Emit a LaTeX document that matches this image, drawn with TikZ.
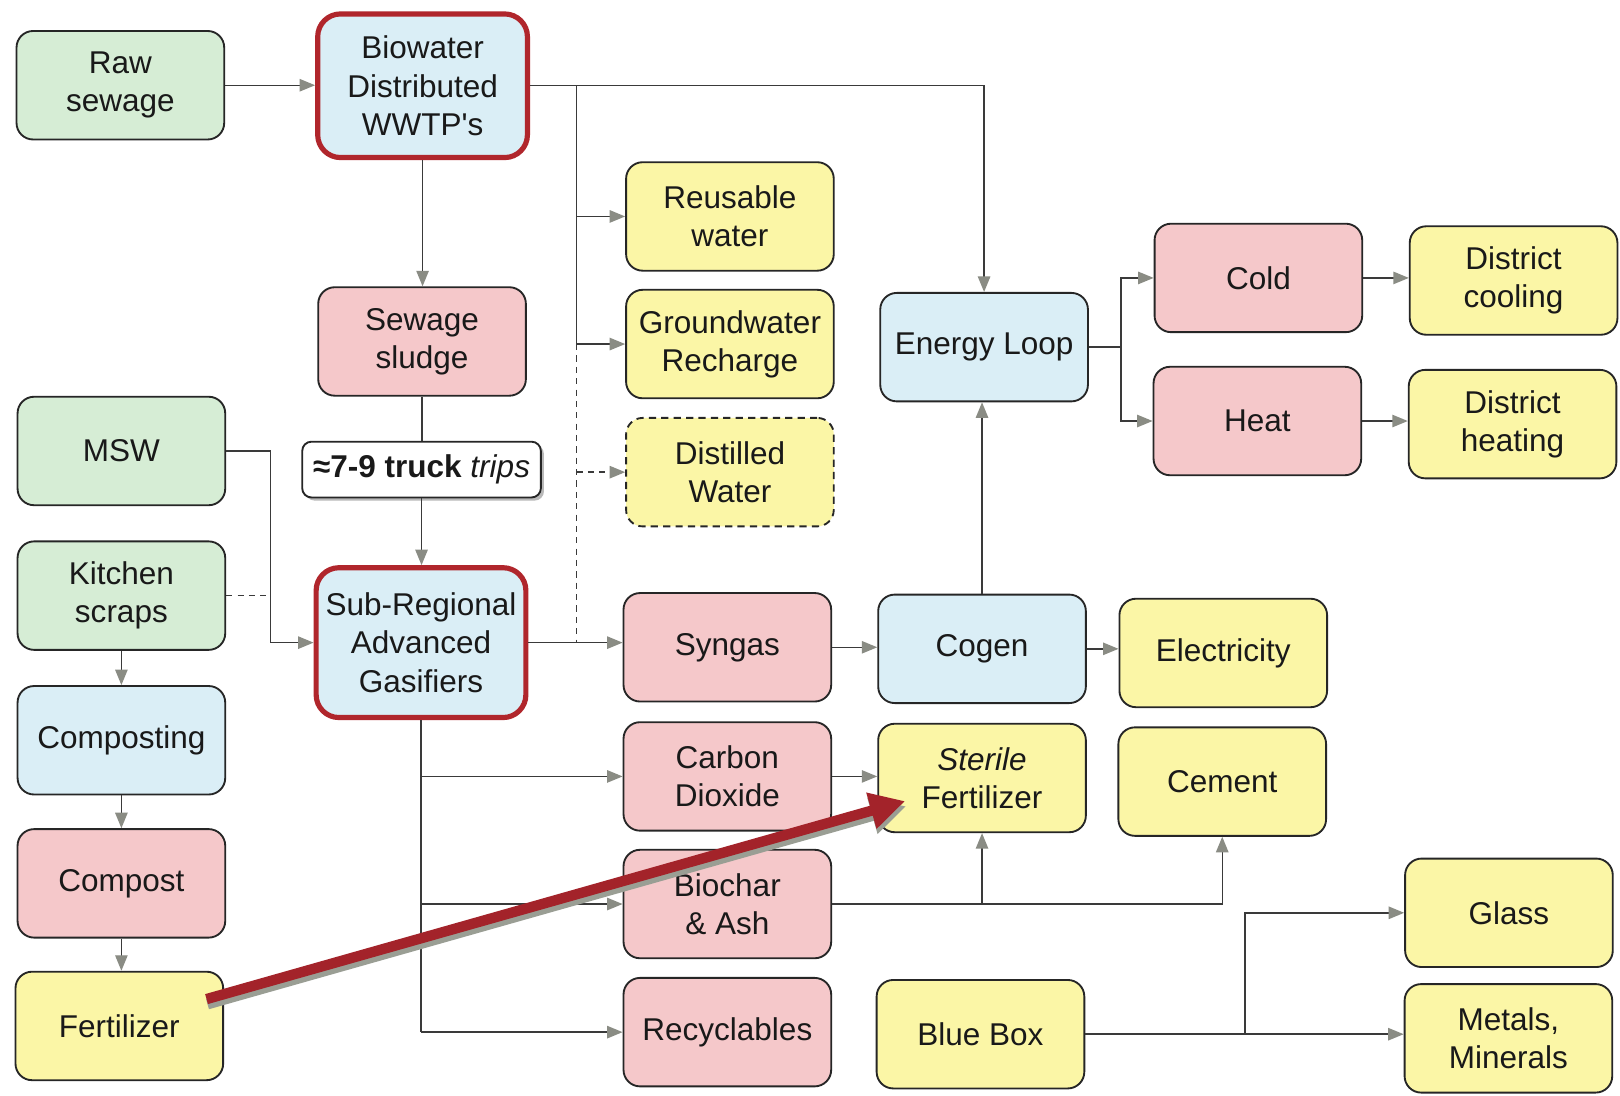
\documentclass[tikz,border=0pt]{standalone}
\usepackage{fontspec}
\setmainfont{Liberation Sans}
\usetikzlibrary{arrows.meta,shadows,calc}
\definecolor{boxgreen}{HTML}{D6EDD5}
\definecolor{boxblue}{HTML}{DAEEF6}
\definecolor{boxpink}{HTML}{F5C8CA}
\definecolor{boxyellow}{HTML}{FBF6A6}
\definecolor{hubred}{HTML}{B0262C}
\definecolor{wirecol}{HTML}{3A3A3A}
\definecolor{tipgray}{HTML}{8A8C84}
\definecolor{bigred}{HTML}{A3232A}
\definecolor{shadecol}{HTML}{9A9E94}

\begin{document}
\begin{tikzpicture}[x=1pt,y=-1pt,
  every node/.style={font=\fontsize{30.5}{37}\selectfont, text=black!90},
  card/.style={draw=black!85, line width=1.8pt, rounded corners=16pt, align=center,
    inner sep=0pt, minimum width=201pt, minimum height=105pt},
  greencard/.style={card, fill=boxgreen},
  bluecard/.style={card, fill=boxblue},
  pinkcard/.style={card, fill=boxpink},
  yellowcard/.style={card, fill=boxyellow},
  hub/.style={card, draw=hubred, line width=5pt, fill=boxblue, rounded corners=22pt,
    minimum width=203pt},
  wire/.style={draw=wirecol, line width=1.4pt},
  feed/.style={wire, -{Triangle[length=15pt,width=12pt,color=tipgray]}},
  dashwire/.style={wire, dash pattern=on 6pt off 5pt},
  dashfeed/.style={feed, dash pattern=on 6pt off 5pt},
]
\useasboundingbox[fill=white] (0,0) rectangle (1568,1060);

% left column: inputs and composting chain
\node[greencard] (raw) at (116.5,82.5) {Raw\\sewage};
\node[greencard] (msw) at (117.5,436.5) {MSW};
\node[greencard] (kitchen) at (117.5,576.5) {Kitchen\\scraps};
\node[bluecard] (compo) at (117.5,716.5) {Composting};
\node[pinkcard] (compost) at (117.5,855) {Compost};
\node[yellowcard] (fert) at (115.5,993) {Fertilizer};

% treatment and gasification column
\node[hub, minimum height=139pt] (bio) at (409,83) {Biowater\\Distributed\\WWTP\textquotesingle s};
\node[pinkcard] (sludge) at (408.5,330.5) {Sewage\\sludge};
\node[draw=black!85, line width=1.8pt, fill=white, rounded corners=9pt, inner sep=0pt,
  minimum width=231pt, minimum height=54pt,
  drop shadow={shadow xshift=3pt, shadow yshift=-3pt, fill=gray!55, opacity=1}]
  (truck) at (408,454.5) {\textbf{≈7-9 truck} \textit{trips}};
\node[hub, minimum height=145pt] (gasif) at (407.5,622) {Sub-Regional\\Advanced\\Gasifiers};

% water products and gasifier outputs
\node[yellowcard] (reuse) at (706.5,209.5) {Reusable\\water};
\node[yellowcard] (ground) at (706.5,333) {Groundwater\\Recharge};
\node[yellowcard, dash pattern=on 7pt off 5pt] (distil) at (706.5,457) {Distilled\\Water};
\node[pinkcard] (syngas) at (704,626.5) {Syngas};
\node[pinkcard] (co2) at (704,751.5) {Carbon\\Dioxide};
\node[pinkcard] (biochar) at (704,875) {Biochar\\\& Ash};
\node[pinkcard] (recyc) at (704,999) {Recyclables};

% energy and product column
\node[bluecard] (energy) at (952.5,336) {Energy Loop};
\node[bluecard] (cogen) at (950.5,628) {Cogen};
\node[yellowcard] (sterile) at (950.5,753) {\textit{Sterile}\\Fertilizer};
\node[yellowcard] (bluebox) at (949,1001) {Blue Box};

\node[pinkcard] (cold) at (1218,269) {Cold};
\node[pinkcard] (heat) at (1217,407.5) {Heat};
\node[yellowcard] (elec) at (1184,632) {Electricity};
\node[yellowcard] (cement) at (1183,756.5) {Cement};

\node[yellowcard] (dcool) at (1465,271.5) {District\\cooling};
\node[yellowcard] (dheat) at (1464,410.5) {District\\heating};
\node[yellowcard] (glass) at (1460.5,883.5) {Glass};
\node[yellowcard] (metals) at (1460,1005) {Metals,\\Minerals};

% sewage path
\draw[feed] (raw.east) -- (raw.east -| bio.west);
\draw[feed] (bio.east) -| (energy.north);
\coordinate (wj) at (558,83);
\draw[feed] (wj) |- (reuse.west);
\draw[feed] (wj) |- (ground.west);
\draw[dashwire] (wj |- ground.west) -- (wj |- gasif.east);
\draw[dashfeed] (wj |- distil.west) -- (distil.west);
\draw[feed] (bio.south) -- (bio.south |- sludge.north);
\draw[wire] (sludge.south) -- (sludge.south |- truck.north);
\draw[feed] (truck.south) -- (truck.south |- gasif.north);

% solid waste inputs
\coordinate (mj) at (262,436.5);
\draw[feed] (msw.east) -- (mj) |- (gasif.west);
\draw[dashwire] (kitchen.east) -- (kitchen.east -| mj);
\draw[feed] (kitchen.south) -- (compo.north);
\draw[feed] (compo.south) -- (compost.north);
\draw[feed] (compost.south) -- (compost.south |- fert.north);

% gasifier outputs
\draw[feed] (gasif.east) -- (gasif.east -| syngas.west);
\draw[wire] (gasif.south) -- (gasif.south |- recyc.west);
\draw[feed] (gasif.south |- co2.west) -- (co2.west);
\draw[feed] (gasif.south |- biochar.west) -- (biochar.west);
\draw[feed] (gasif.south |- recyc.west) -- (recyc.west);

\draw[feed] (syngas.east) -- (syngas.east -| cogen.west);
\draw[feed] (cogen.north) -- (cogen.north |- energy.south);
\draw[feed] (cogen.east) -- (cogen.east -| elec.west);
\draw[feed] (co2.east) -- (co2.east -| sterile.west);
\draw[feed] (biochar.east) -| (cement.south);
\draw[feed] (sterile.south |- biochar.east) -- (sterile.south);

% energy loop
\coordinate (ej) at (1085,336);
\draw[wire] (energy.east) -- (ej);
\draw[feed] (ej) |- (cold.west);
\draw[feed] (ej) |- (heat.west);
\draw[feed] (cold.east) -- (cold.east -| dcool.west);
\draw[feed] (heat.east) -- (heat.east -| dheat.west);

% recycling
\draw[feed] (bluebox.east) -- (bluebox.east -| metals.west);
\draw[feed] (1205,1001) |- (glass.west);

% highlighted fertilizer link
\coordinate (rs) at ($(fert.east)+(-17,-26)$);
\coordinate (re) at ($(sterile.south west)+(27,-31)$);
\draw[shadecol, line width=10pt, -{Triangle[length=34pt,width=34pt]}]
  ($(rs)+(1,5)$) -- ($(re)+(1,5)$);
\draw[bigred, line width=10pt, -{Triangle[length=34pt,width=34pt]}] (rs) -- (re);
\end{tikzpicture}
\end{document}
